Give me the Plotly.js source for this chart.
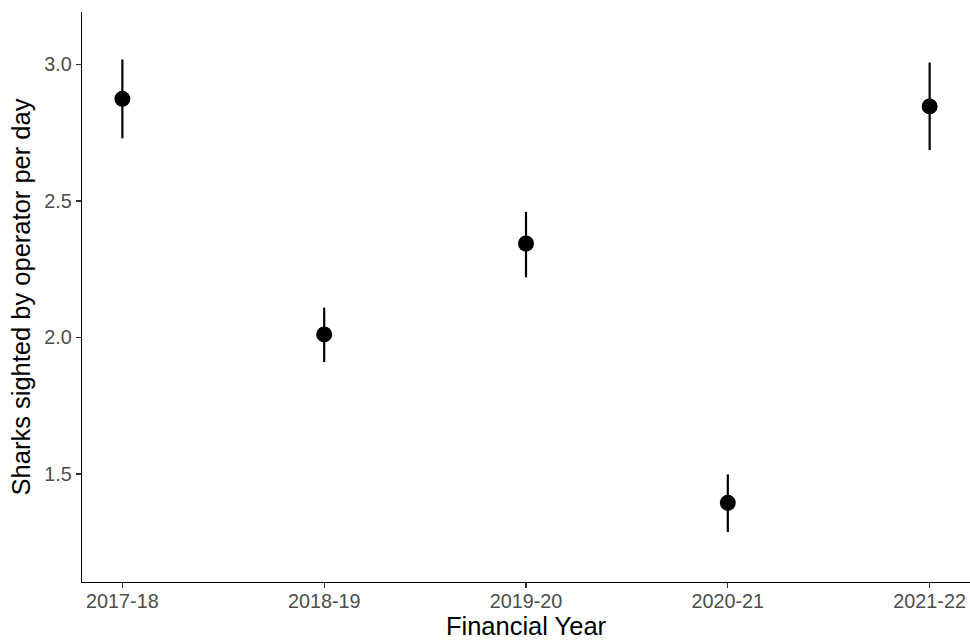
<!DOCTYPE html>
<html>
<head>
<meta charset="utf-8">
<script src="https://cdn.plot.ly/plotly-3.0.1.min.js"></script>
<style>html,body{margin:0;padding:0;background:#fff}#chart{width:970px;height:641px}</style>
</head>
<body>
<div id="chart"></div>
<script>
var years = ["2017-18", "2018-19", "2019-20", "2020-21", "2021-22"];
var sharksPerDay = [2.874, 2.011, 2.344, 1.394, 2.846];
var upperCI = [3.018, 2.109, 2.460, 1.498, 3.007];
var lowerCI = [2.729, 1.910, 2.220, 1.287, 2.686];
var yTicks = [1.5, 2.0, 2.5, 3.0];
var yTickLabels = ["1.5", "2.0", "2.5", "3.0"];

var errPlus = upperCI.map(function(u, i){ return u - sharksPerDay[i]; });
var errMinus = lowerCI.map(function(l, i){ return sharksPerDay[i] - l; });

var trace = {
  x: years,
  y: sharksPerDay,
  type: "scatter",
  mode: "markers",
  marker: {color: "#000000", size: 16},
  error_y: {type: "data", symmetric: false, array: errPlus, arrayminus: errMinus,
            color: "#000000", thickness: 2.2, width: 0},
  hoverinfo: "x+y"
};

var layout = {
  width: 970, height: 641,
  paper_bgcolor: "#ffffff", plot_bgcolor: "#ffffff",
  margin: {l: 82, r: 0, t: 12, b: 59},
  showlegend: false,
  font: {family: "Liberation Sans, Arial, sans-serif", color: "#4D4D4D"},
  xaxis: {
    type: "category",
    range: [-0.2, 4.2],
    showgrid: false, zeroline: false,
    showline: true, linecolor: "#000000", linewidth: 1.2,
    ticks: "outside", ticklen: 5, tickwidth: 1.2, tickcolor: "#333333",
    ticklabelstandoff: -4,
    tickfont: {size: 19.8, color: "#4D4D4D"},
    title: {text: "Financial Year", font: {size: 25.5, color: "#000000"}, standoff: 4},
    automargin: false
  },
  yaxis: {
    range: [1.104, 3.192],
    tickvals: yTicks, ticktext: yTickLabels,
    showgrid: false, zeroline: false,
    showline: true, linecolor: "#000000", linewidth: 1.2,
    ticks: "outside", ticklen: 5, tickwidth: 1.2, tickcolor: "#333333",
    tickfont: {size: 19.8, color: "#4D4D4D"},
    title: {text: "Sharks sighted by operator per day", font: {size: 25.5, color: "#000000"}, standoff: 6},
    automargin: false
  }
};

Plotly.newPlot("chart", [trace], layout, {displayModeBar: false, staticPlot: true});
</script>
</body>
</html>
